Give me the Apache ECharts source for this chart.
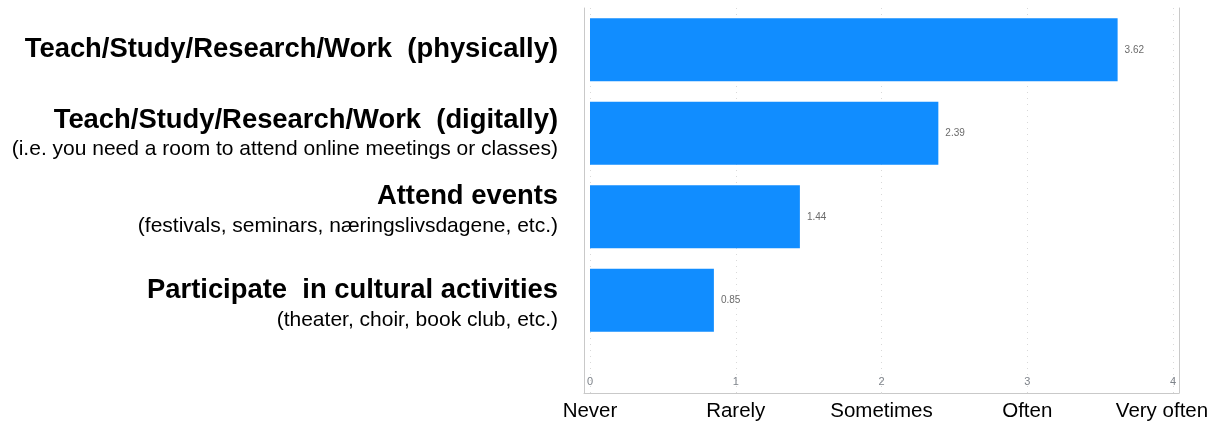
<!DOCTYPE html>
<html>
<head>
<meta charset="utf-8">
<script src="https://cdn.jsdelivr.net/npm/echarts@6/dist/echarts.min.js"></script>
<style>
  html, body { margin: 0; padding: 0; background: #fff; }
  #chart { width: 1218px; height: 423px; }
</style>
</head>
<body>
<div id="chart"></div>
<script>
// Activity headings and their explanatory sub-lines
const activityTitles = [
  'Teach/Study/Research/Work  (physically)',
  'Teach/Study/Research/Work  (digitally)',
  'Attend events',
  'Participate  in cultural activities'
];
const activityNotes = [
  '',
  '(i.e. you need a room to attend online meetings or classes)',
  '(festivals, seminars, næringslivsdagene, etc.)',
  '(theater, choir, book club, etc.)'
];
// Average frequency score per activity (0 = Never … 4 = Very often)
const meanScores = [3.62, 2.39, 1.44, 0.85];
// Frequency words under the scale
const scaleWords = ['Never', 'Rarely', 'Sometimes', 'Often', 'Very often'];

const categories = activityTitles.map((t, i) => i);

const chart = echarts.init(document.getElementById('chart'), null, { renderer: 'canvas' });

const frameColor = '#c9c9c9';
const textFont = 'Liberation Sans, Arial, sans-serif';
const smallFont = 'Liberation Sans Narrow, Liberation Sans, sans-serif';

const boldStyle = { fontFamily: textFont, fontWeight: 'bold', fontSize: 27.4, color: '#000', align: 'right' };
const noteStyle = { fontFamily: textFont, fontSize: 21, color: '#000', align: 'right' };

// line-height pairs per label block: the third block sits a little higher, the fourth a little lower
const headStyleFor = ['b', 'b', 'bTight', 'bLoose'];
const noteStyleFor = ['s', 's', 'sLoose', 'sTight'];

chart.setOption({
  animation: false,
  backgroundColor: '#ffffff',
  grid: [
    // bars
    { left: 590, right: 45, top: 8, height: 334 },
    // scale: gridlines, numbers, words
    { left: 590, right: 45, top: 8, bottom: 30 },
    // frame around the plot
    { left: 584, right: 39, top: 8, bottom: 30 }
  ],
  xAxis: [
    {
      gridIndex: 0, type: 'value', min: 0, max: 4, interval: 1,
      show: false
    },
    {
      gridIndex: 1, type: 'value', min: 0, max: 4, interval: 1,
      position: 'bottom',
      axisLine: { show: false },
      axisTick: { show: false },
      splitLine: { show: true, lineStyle: { color: '#d9d9d9', type: [1, 5], width: 1 } },
      axisLabel: {
        inside: true, margin: 6,
        fontFamily: smallFont, fontSize: 11, color: '#7d8289'
      }
    },
    {
      gridIndex: 1, type: 'value', min: 0, max: 4, interval: 1,
      position: 'bottom',
      axisLine: { show: false },
      axisTick: { show: false },
      splitLine: { show: false },
      axisLabel: {
        margin: 8,
        fontFamily: textFont, fontSize: 20.5, color: '#000',
        formatter: (v) => {
          const w = scaleWords[Math.round(v)];
          return Math.round(v) === scaleWords.length - 1 ? '{last|' + w + '}' : w;
        },
        rich: {
          last: { fontFamily: textFont, fontSize: 20.5, color: '#000', padding: [0, 22, 0, 0] }
        }
      }
    },
    {
      gridIndex: 2, type: 'value', min: 0, max: 1,
      axisLine: { show: true, lineStyle: { color: frameColor, width: 1 } },
      axisTick: { show: false }, axisLabel: { show: false }, splitLine: { show: false }
    }
  ],
  yAxis: [
    {
      gridIndex: 0, type: 'category', data: categories, inverse: true,
      axisLine: { show: false }, axisTick: { show: false },
      axisLabel: {
        margin: 32,
        formatter: (i) => {
          const note = activityNotes[i];
          return '{' + headStyleFor[i] + '|' + activityTitles[i] + '}' +
            (note ? '\n{' + noteStyleFor[i] + '|' + note + '}' : '');
        },
        rich: {
          b: Object.assign({}, boldStyle, { lineHeight: 31 }),
          bTight: Object.assign({}, boldStyle, { lineHeight: 19 }),
          bLoose: Object.assign({}, boldStyle, { lineHeight: 39 }),
          s: Object.assign({}, noteStyle, { lineHeight: 26 }),
          sLoose: Object.assign({}, noteStyle, { lineHeight: 41 }),
          sTight: Object.assign({}, noteStyle, { lineHeight: 19 })
        }
      }
    },
    {
      gridIndex: 1, type: 'value', show: false
    },
    {
      gridIndex: 2, type: 'value', position: 'left',
      axisLine: { show: true, lineStyle: { color: frameColor, width: 1 } },
      axisTick: { show: false }, axisLabel: { show: false }, splitLine: { show: false }
    },
    {
      gridIndex: 2, type: 'value', position: 'right',
      axisLine: { show: true, lineStyle: { color: frameColor, width: 1 } },
      axisTick: { show: false }, axisLabel: { show: false }, splitLine: { show: false }
    }
  ],
  series: [
    {
      type: 'bar',
      xAxisIndex: 0, yAxisIndex: 0,
      data: meanScores,
      barCategoryGap: '24.5%',
      itemStyle: { color: '#118DFF' },
      label: {
        show: true, position: 'right', distance: 7,
        fontFamily: smallFont, fontSize: 10, color: '#6b6b6b',
        formatter: (p) => p.value.toFixed(2)
      }
    }
  ]
});
</script>
</body>
</html>
